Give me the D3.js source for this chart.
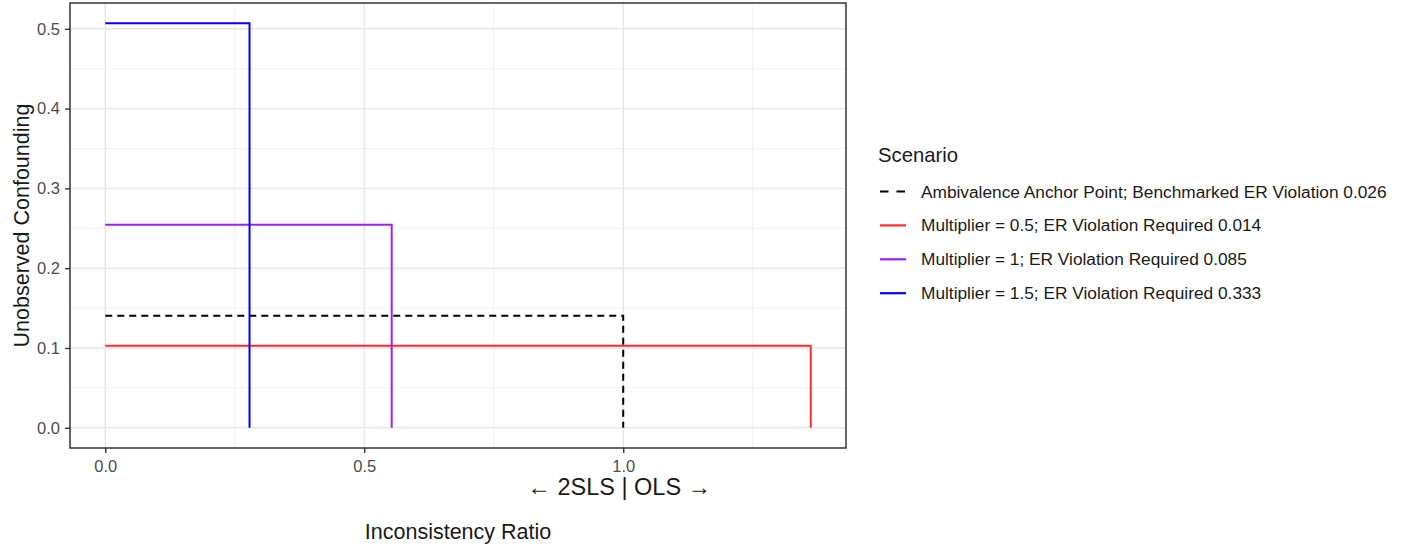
<!DOCTYPE html>
<html><head><meta charset="utf-8">
<script src="https://cdn.jsdelivr.net/npm/d3@7"></script>
<style>
body{margin:0;background:#fff;}
svg{font-family:"Liberation Sans",Arial,Helvetica,sans-serif;}
</style></head>
<body><svg id="c" width="1413" height="550"></svg>
<script>
const scenarios = [
  "Ambivalence Anchor Point; Benchmarked ER Violation 0.026",
  "Multiplier = 0.5; ER Violation Required 0.014",
  "Multiplier = 1; ER Violation Required 0.085",
  "Multiplier = 1.5; ER Violation Required 0.333"
];
const ratioValues = [1.0, 1.362, 0.553, 0.2785];
const confoundValues = [0.1404, 0.1028, 0.2544, 0.507];
const colors = ["#000000", "#ff2a2a", "#a020f0", "#0000ff"];
const dashes = ["7,5", null, null, null];
const xTicks = [0.0, 0.5, 1.0];
const yTicks = [0.0, 0.1, 0.2, 0.3, 0.4, 0.5];

const svg = d3.select("#c");
const L = 70, R = 846, T = 3, B = 448;
const xMax = d3.max(ratioValues), yMax = d3.max(confoundValues);
const x = d3.scaleLinear().domain([-0.05*xMax, 1.05*xMax]).range([L, R]);
const y = d3.scaleLinear().domain([-0.05*yMax, 1.05*yMax]).range([B, T]);

// grid
const g = svg.append("g");
const xMinor = [0.25, 0.75, 1.25];
const yMinor = [0.05, 0.15, 0.25, 0.35, 0.45];
xMinor.forEach(v => g.append("line").attr("x1", x(v)).attr("x2", x(v)).attr("y1", T).attr("y2", B).attr("stroke", "#ebebeb").attr("stroke-width", 0.7));
yMinor.forEach(v => g.append("line").attr("y1", y(v)).attr("y2", y(v)).attr("x1", L).attr("x2", R).attr("stroke", "#ebebeb").attr("stroke-width", 0.7));
xTicks.forEach(v => g.append("line").attr("x1", x(v)).attr("x2", x(v)).attr("y1", T).attr("y2", B).attr("stroke", "#e6e6e6").attr("stroke-width", 1.4));
yTicks.forEach(v => g.append("line").attr("y1", y(v)).attr("y2", y(v)).attr("x1", L).attr("x2", R).attr("stroke", "#e6e6e6").attr("stroke-width", 1.4));

// lines
const line = d3.line().x(d => x(d[0])).y(d => y(d[1]));
scenarios.forEach((s, i) => {
  const pts = [[0, confoundValues[i]], [ratioValues[i], confoundValues[i]], [ratioValues[i], 0]];
  svg.append("path").attr("d", line(pts)).attr("fill", "none")
    .attr("stroke", colors[i]).attr("stroke-width", 2)
    .attr("stroke-dasharray", dashes[i]);
});

// panel border
svg.append("rect").attr("x", L).attr("y", T).attr("width", R-L).attr("height", B-T)
  .attr("fill", "none").attr("stroke", "#333333").attr("stroke-width", 1.5);

// axes
const xAxis = svg.append("g").attr("transform", `translate(0,${B})`)
  .call(d3.axisBottom(x).tickValues(xTicks).tickFormat(d3.format(".1f")).tickSize(5).tickPadding(7));
const yAxis = svg.append("g").attr("transform", `translate(${L},0)`)
  .call(d3.axisLeft(y).tickValues(yTicks).tickFormat(d3.format(".1f")).tickSize(5).tickPadding(5));
[xAxis, yAxis].forEach(a => {
  a.select(".domain").remove();
  a.selectAll(".tick line").attr("stroke", "#333333").attr("stroke-width", 1.4);
  a.selectAll(".tick text").attr("fill", "#4d4d4d").attr("font-size", 16.5).attr("font-family", "Liberation Sans, Arial, sans-serif");
});

// labels
svg.append("text").attr("x", x(1.0) - 4).attr("y", 495).attr("text-anchor", "middle")
  .attr("font-size", 23.5).attr("fill", "#1a1a1a").text("\u2190 2SLS | OLS \u2192");
svg.append("text").attr("x", (L+R)/2).attr("y", 539).attr("text-anchor", "middle")
  .attr("font-size", 21.5).attr("fill", "#1a1a1a").text("Inconsistency Ratio");
svg.append("text").attr("transform", `translate(29,${(T+B)/2}) rotate(-90)`).attr("text-anchor", "middle")
  .attr("font-size", 21.5).attr("fill", "#1a1a1a").text("Unobserved Confounding");

// legend
const lg = svg.append("g");
lg.append("text").attr("x", 878).attr("y", 161.5).attr("font-size", 20.3).attr("fill", "#1a1a1a").text("Scenario");
scenarios.forEach((s, i) => {
  const yy = 191.5 + i*33.9;
  lg.append("line").attr("x1", 880).attr("x2", 906).attr("y1", yy).attr("y2", yy)
    .attr("stroke", colors[i]).attr("stroke-width", 2.2).attr("stroke-dasharray", dashes[i] ? "8.5,8" : null);
  lg.append("text").attr("x", 921).attr("y", yy + 6).attr("font-size", 17.3).attr("fill", "#1a1a1a").text(s);
});
</script></body></html>
